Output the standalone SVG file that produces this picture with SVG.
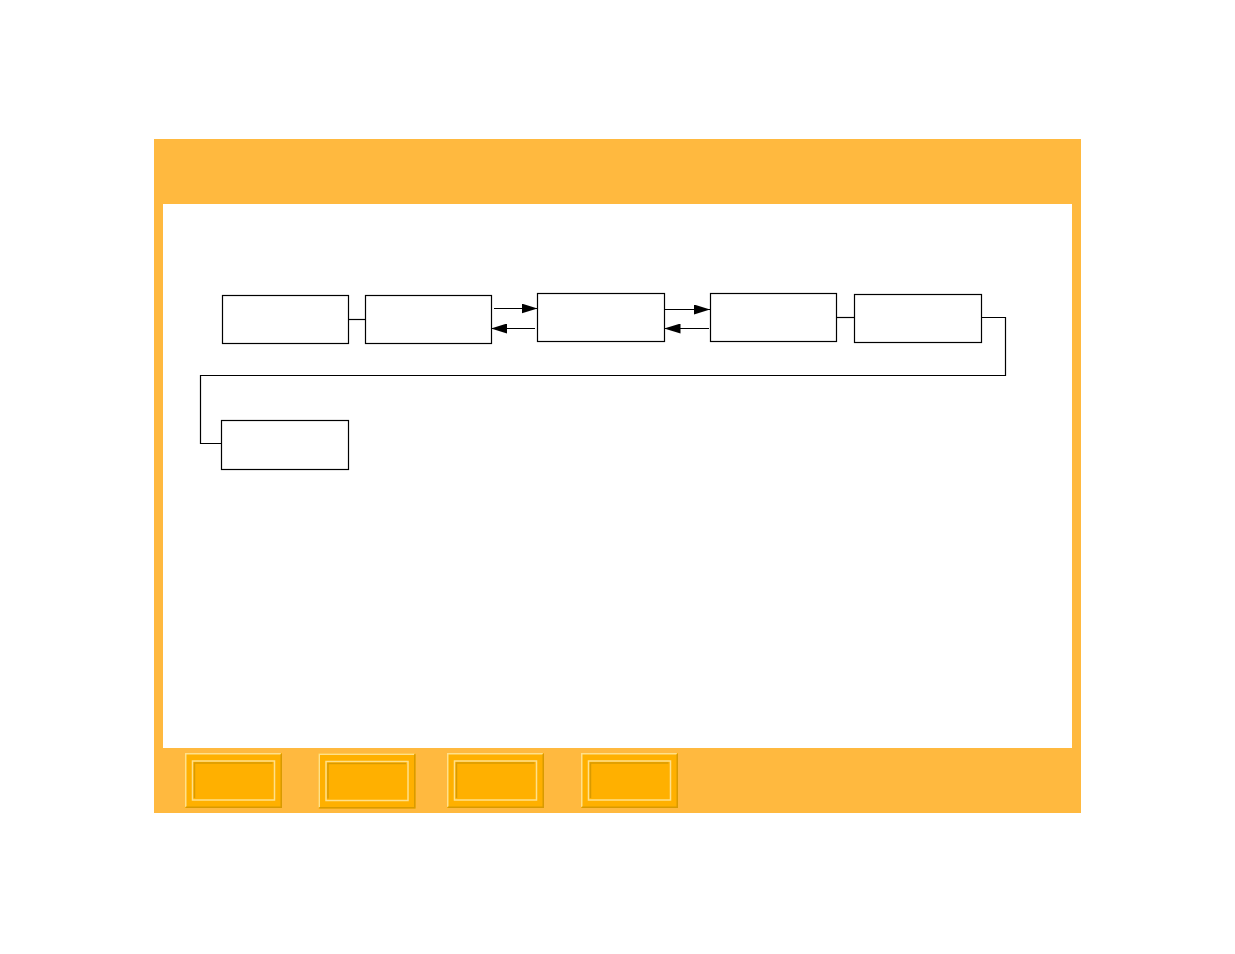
<svg xmlns="http://www.w3.org/2000/svg" width="1235" height="954" viewBox="0 0 1235 954">
<style>
.node rect{fill:#ffffff;stroke:#000000;stroke-width:1.2}
.conn{fill:none;stroke:#000000;stroke-width:1.2}
.frame{fill:#ffb93f}
.btn-outer{fill:#ffb000}
.btn-hl{fill:none;stroke:#ffe08a;stroke-width:1.5}
.btn-sh{fill:none;stroke:#d99a00;stroke-width:1.5}
</style>
<defs>
<marker id="ah" markerWidth="16" markerHeight="10" refX="16" refY="5" orient="auto" markerUnits="userSpaceOnUse">
<path d="M0,0 L16,5 L0,10 Z" fill="#000000"/>
</marker>
<g id="btn">
<rect class="btn-outer" x="0" y="0" width="97" height="55"/>
<path class="btn-hl" d="M0.75,54 V0.75 H96"/>
<path class="btn-sh" d="M0.75,54.25 H96.25 V0.75"/>
<rect class="btn-hl" x="7.5" y="8" width="82" height="39"/>
<path class="btn-sh" d="M9.5,45 V10 H87.5"/>
</g>
</defs>
<rect width="1235" height="954" fill="#ffffff"/>
<g id="frame">
<rect class="frame" x="154" y="139" width="927" height="65"/>
<rect class="frame" x="154" y="139" width="9" height="674"/>
<rect class="frame" x="1072" y="139" width="9" height="674"/>
<rect class="frame" x="154" y="748" width="927" height="65"/>
</g>
<g id="buttons">
<use href="#btn" x="185" y="753"/>
<use href="#btn" x="318.5" y="753.5"/>
<use href="#btn" x="447" y="753"/>
<use href="#btn" x="581" y="753"/>
</g>
<g id="connectors">
<line class="conn" x1="348.5" y1="319.5" x2="365.5" y2="319.5"/>
<line class="conn" x1="494" y1="308.5" x2="537.5" y2="308.5" marker-end="url(#ah)"/>
<line class="conn" x1="535" y1="328.5" x2="491" y2="328.5" marker-end="url(#ah)"/>
<line class="conn" x1="665" y1="309.5" x2="710" y2="309.5" marker-end="url(#ah)"/>
<line class="conn" x1="709" y1="328.5" x2="664.5" y2="328.5" marker-end="url(#ah)"/>
<line class="conn" x1="836.5" y1="317.5" x2="854.5" y2="317.5"/>
<polyline class="conn" points="981.5,317.5 1005.5,317.5 1005.5,375.5 200.5,375.5 200.5,443.5 221.5,443.5"/>
</g>
<g id="node1" class="node"><rect x="222.5" y="295.5" width="126" height="48"/></g>
<g id="node2" class="node"><rect x="365.5" y="295.5" width="126" height="48"/></g>
<g id="node3" class="node"><rect x="537.5" y="293.5" width="127" height="48"/></g>
<g id="node4" class="node"><rect x="710.5" y="293.5" width="126" height="48"/></g>
<g id="node5" class="node"><rect x="854.5" y="294.5" width="127" height="48"/></g>
<g id="node6" class="node"><rect x="221.5" y="420.5" width="127" height="49"/></g>
</svg>
